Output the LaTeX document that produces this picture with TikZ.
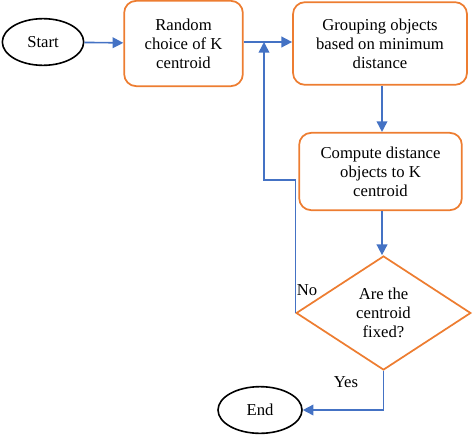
\documentclass[tikz,border=0pt]{standalone}
\usepackage{fontspec}
\setmainfont{Liberation Serif}
\usetikzlibrary{positioning,arrows.meta,shapes.geometric}
\definecolor{boxorange}{RGB}{237,125,49}
\definecolor{flowblue}{RGB}{68,114,196}
\tikzset{
  >={Triangle[length=8pt,width=8pt]},
  term/.style={ellipse,draw=black,line width=1.2pt,minimum width=61pt,
    minimum height=35pt,inner sep=1pt,font=\fontsize{12.5}{14.4}\selectfont},
  procbox/.style={draw=boxorange,rounded corners=9pt,line width=1.3pt,
    align=center,inner sep=2pt,font=\fontsize{12.5}{14.4}\selectfont},
  decbox/.style={diamond,draw=boxorange,line width=1.3pt,aspect=1.53,
    align=center,inner sep=0pt,minimum width=131pt,minimum height=85.5pt,
    font=\fontsize{12.5}{14.4}\selectfont},
  flow/.style={->,draw=flowblue,line width=1.2pt},
  flowlbl/.style={font=\fontsize{12.5}{14.4}\selectfont,inner sep=1pt},
}
\begin{document}
\begin{tikzpicture}[x=0.75pt,y=-0.75pt]
  \useasboundingbox (0,0) rectangle (473,435);
  \node[term] (start) at (43,42) {Start};
  \node[procbox,minimum width=89pt,minimum height=64pt] (rand) at (183.5,43.5)
    {Random\\choice of K\\centroid};
  \node[procbox,minimum width=130.5pt,minimum height=62pt] (group) at (380,43.5)
    {Grouping objects\\based on minimum\\distance};
  \node[procbox,minimum width=122pt,minimum height=58pt] (comp) at (380.5,171.5)
    {Compute distance\\objects to K\\centroid};
  \node[decbox] (fixed) at (383.5,313) {Are the\\centroid\\fixed?};
  \node[term,minimum width=63pt] (stop) at (260,410) {End};
  \coordinate (join) at (264,42);
  \node[flowlbl] (no) at (307,290) {No};
  \node[flowlbl] (yes) at (346,382) {Yes};
  \draw[flow] (start) -- (rand);
  \draw[flow] (rand.east |- start) -- (group.west |- start);
  \draw[flow] (group.south -| 382,0) -- (comp.north -| 382,0);
  \draw[flow] (comp.south -| 382,0) -- (fixed.north -| 382,0);
  \draw[flow] (fixed.west) -- (fixed.west |- 0,180) -- (264,180) -- (join);
  \draw[flow] (fixed.south) |- (stop.east);
\end{tikzpicture}
\end{document}
